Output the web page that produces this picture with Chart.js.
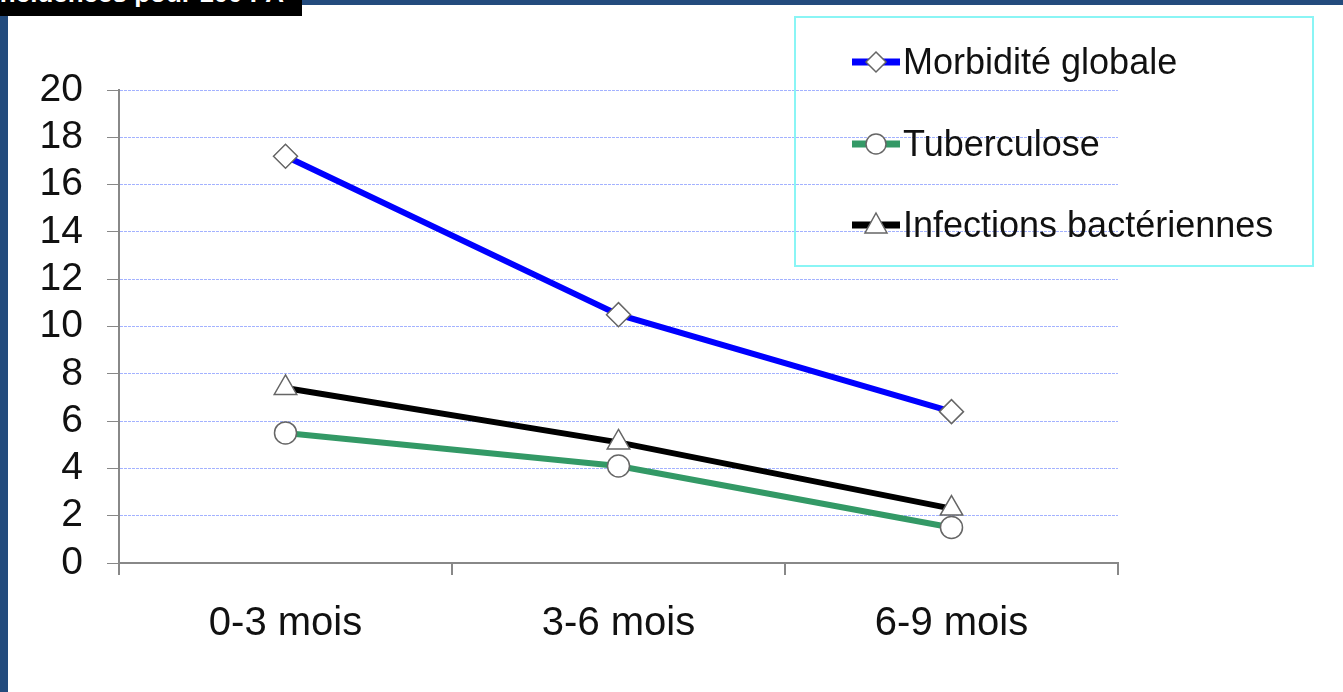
<!DOCTYPE html>
<html>
<head>
<meta charset="utf-8">
<script src="https://cdn.jsdelivr.net/npm/chart.js@4.4.1/dist/chart.umd.min.js"></script>
<style>
  html, body { margin: 0; padding: 0; background: #fff; overflow: hidden; }
  #wrap { position: relative; width: 1343px; height: 692px; font-family: "Liberation Sans", Arial, sans-serif; }
  #topbar { position: absolute; left: 300px; top: 0; width: 1043px; height: 5px; background: #234b7d; }
  #leftbar { position: absolute; left: 0; top: 14px; width: 8px; height: 678px; background: #234b7d; }
  #title { position: absolute; left: 0; top: 0; width: 302px; height: 16px; background: #000; overflow: hidden; }
  #title span { position: absolute; right: 18px; top: -22px; color: #fff; font-size: 26px; font-weight: bold; white-space: nowrap; }
  #legend { position: absolute; left: 794px; top: 16px; width: 516px; height: 247px; border: 2px solid #8af5f5; }
  .item { position: absolute; left: 56px; height: 40px; display: flex; align-items: center; font-size: 36px; color: #111; white-space: nowrap; }
  .item svg { margin-right: 3px; }
  canvas { position: absolute; left: 0; top: 0; }
</style>
</head>
<body>
<div id="wrap">
  <canvas id="c" width="1343" height="692"></canvas>
  <div id="topbar"></div>
  <div id="leftbar"></div>
  <div id="title"><span>Incidences pour 100 PA</span></div>
  <div id="legend"></div>
</div>
<script>
// données
var categories = ["0-3 mois", "3-6 mois", "6-9 mois"];
var seriesNames = ["Morbidité globale", "Tuberculose", "Infections bactériennes"];
var morbidite = [17.2, 10.5, 6.4];
var tuberculose = [5.5, 4.1, 1.5];
var infections = [7.4, 5.1, 2.3];
var yTicks = [0, 2, 4, 6, 8, 10, 12, 14, 16, 18, 20];

var colors = ["#0000ff", "#339966", "#000000"];
var markers = ["rectRot", "circle", "triangle"];
var radii = [12, 11, 13];

function ds(i, data) {
  return {
    label: seriesNames[i],
    data: data,
    borderColor: colors[i],
    borderWidth: 6,
    tension: 0,
    pointStyle: markers[i],
    pointRadius: radii[i],
    pointBackgroundColor: "#fff",
    pointBorderColor: "#666",
    pointBorderWidth: 1.5,
    fill: false
  };
}

var ctx = document.getElementById("c").getContext("2d");
new Chart(ctx, {
  type: "line",
  data: {
    labels: categories,
    datasets: [ds(2, infections), ds(1, tuberculose), ds(0, morbidite)]
  },
  options: {
    responsive: false,
    animation: false,
    layout: { padding: { left: 0, top: 90, right: 225, bottom: 0 } },
    plugins: { legend: { display: false }, tooltip: { enabled: false } },
    scales: {
      x: {
        offset: true,
        grid: { offset: true, drawOnChartArea: false, drawTicks: true, tickLength: 12, color: "#888", lineWidth: 2 },
        border: { color: "#888", width: 2 },
        ticks: { color: "#111", font: { size: 40, family: "Liberation Sans" }, padding: 25 },
        afterFit: function(s) { s.height = 692 - 563; }
      },
      y: {
        min: 0, max: 20,
        afterBuildTicks: function(s) { s.ticks = yTicks.map(function(v) { return { value: v }; }); },
        grid: {
          color: function(c) { return c.tick && c.tick.value === 0 ? "rgba(0,0,0,0)" : "#a3b2ff"; },
          tickColor: "#888",
          tickLength: 12,
          lineWidth: 1,
          tickBorderDash: []
        },
        border: { color: "#888", width: 2, dash: [3, 1] },
        ticks: { autoSkip: false, color: "#111", font: { size: 39, family: "Liberation Sans" }, padding: 24 },
        afterFit: function(s) { s.width = 119; }
      }
    }
  }
});

// légende
var leg = document.getElementById("legend");
var rows = [24, 106, 187];
function markerSvg(i) {
  var c = colors[i];
  var shape;
  if (markers[i] === "rectRot") shape = '<polygon points="24,10 34,20 24,30 14,20" fill="#fff" stroke="#666" stroke-width="1.5"/>';
  else if (markers[i] === "circle") shape = '<circle cx="24" cy="20" r="10" fill="#fff" stroke="#666" stroke-width="1.5"/>';
  else shape = '<polygon points="24,8 35,28 13,28" fill="#fff" stroke="#666" stroke-width="1.5"/>';
  return '<svg width="48" height="40"><line x1="0" y1="20" x2="48" y2="20" stroke="' + c + '" stroke-width="7"/>' + shape + '</svg>';
}
for (var i = 0; i < seriesNames.length; i++) {
  var d = document.createElement("div");
  d.className = "item";
  d.style.top = rows[i] + "px";
  d.innerHTML = markerSvg(i) + "<span>" + seriesNames[i] + "</span>";
  leg.appendChild(d);
}
</script>
</body>
</html>
